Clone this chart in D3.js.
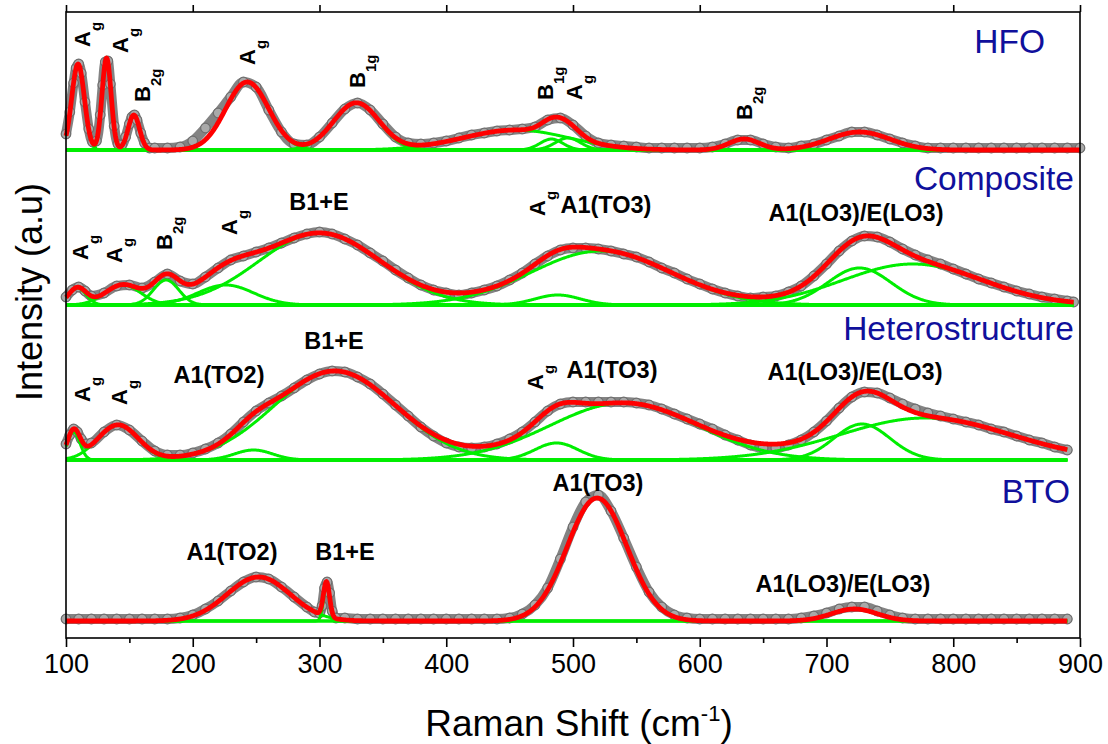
<!DOCTYPE html>
<html>
<head>
<meta charset="utf-8">
<script src="https://cdn.jsdelivr.net/npm/d3@7"></script>
<style>
  html, body { margin: 0; padding: 0; background: #fff; }
  svg { display: block; font-family: Arial, "Liberation Sans", sans-serif; }
</style>
</head>
<body>
<svg id="chart" width="1108" height="744"></svg>
<script>
// ---------------- data ----------------
const samples = ["HFO", "Composite", "Heterostructure", "BTO"];
// vertical stacking offset of each spectrum (a.u.)
const stackOffsets = [488, 333, 178, 17];

// measured spectra (Raman shift in cm-1, intensity in a.u. above the stack offset)
const hfoShift = [100,103,106,108,110,112,115,118,121,124,127,129,131,133,135,138,141,144,147,150,152,154,156,159,162,166,170,180,190,200,210,220,230,240,250,260,270,280,290,300,310,320,330,340,350,360,370,380,390,400,410,420,430,440,450,460,470,480,490,500,510,520,530,540,550,560,570,580,590,600,610,620,630,640,650,660,670,680,690,700,710,720,730,740,750,760,770,780,790,800,810,820,830,840,850,860,870,880,890,900];
const hfoIntensity = [16,38,67,82,86,77,48,21,8,9,35,65,88,89,66,24,6,5,13,26,33,35,30,17,7,2,2,2,3,9,22,37,53,68,63,40,18,6,5,13,27,41,47,40,26,13,7,6,7,9,12,15,17,19,20,21,23,30,32,25,14,7,5,4,3,2,2,2,2,2,3,6,10,10,6,3,2,4,6,10,14,18,18,15,11,7,4,2,2,2,2,2,2,2,2,2,2,2,2,2];

const compShift = [100,105,110,115,120,130,140,150,160,170,180,190,200,210,220,230,240,250,260,270,280,290,300,310,320,330,340,350,360,370,380,390,400,410,420,430,440,450,460,470,480,490,500,510,520,530,540,550,560,570,580,590,600,610,620,630,640,650,660,670,680,690,700,710,720,730,740,750,760,770,780,790,800,810,820,830,840,850,860,870,880,890,895];
const compIntensity = [8,15,18,14,9,12,19,20,17,23,31,24,21,28,37,45,49,53,57,62,67,71,73,71,66,60,52,44,35,27,20,15,12,10,12,15,19,25,32,41,49,55,57,57,56,54,51,48,43,37,32,26,21,16,12,9,7,8,9,13,19,29,41,54,64,69,68,63,56,50,45,41,36,31,26,22,18,14,11,8,6,4,3];

const hetShift = [100,103,106,109,112,116,120,130,140,150,160,170,180,190,200,210,220,230,240,250,260,270,280,290,300,310,320,330,340,350,360,370,380,390,400,410,420,430,440,450,460,470,480,490,500,510,520,530,540,550,560,570,580,590,600,610,620,630,640,650,660,670,680,690,700,710,720,730,740,750,760,770,780,790,800,810,820,830,840,850,860,870,880,890];
const hetIntensity = [16,25,31,28,21,16,17,28,35,30,19,9,5,5,7,11,17,26,38,49,57,64,72,80,86,89,88,83,76,66,55,44,33,24,17,13,12,13,16,21,28,38,49,56,58,58,58,58,58,57,55,51,46,41,36,31,25,20,15,12,12,15,20,28,39,52,63,68,67,62,56,51,47,44,41,38,35,31,28,24,20,17,13,10];

const btoShift = [100,110,120,130,140,150,160,170,180,190,200,210,220,230,240,250,260,270,280,290,296,300,302,304,306,308,310,313,320,330,340,350,360,370,380,390,400,410,420,430,440,450,460,470,480,490,500,510,520,530,540,550,560,570,580,590,600,610,620,630,640,650,660,670,680,690,700,710,720,730,740,750,760,770,780,790,800,810,820,830,840,850,860,870,880,890];
const btoIntensity = [2,2,2,2,2,2,2,2,2,3,6,12,20,30,39,44,42,34,24,14,9,8,15,33,39,28,10,3,3,2,2,2,2,2,2,2,2,2,2,2,2,3,7,16,33,62,94,119,126,110,83,54,29,14,6,3,2,2,2,2,2,2,2,2,3,5,8,12,14,14,10,6,3,2,2,2,2,2,2,2,2,2,2,2,2,2];

// fitted Gaussian components: [centre (cm-1), height (a.u.), sigma (cm-1)]
const hfoPeaks = [[109.5,86,5.0],[132,92,3.6],[153.5,35,4.5],[243,68,17],[329,47,18],[455,20,42],[483,11,9],[496,12,10],[635,11,12],[726,18,24]];
const compPeaks = [[109,17,7],[145,20,14],[179,25,10],[226,20,22],[300,72,48],[488,10,18],[522,54,55],[726,37,25],[768,41,55]];
const hetPeaks = [[106,28,5],[141,35,16],[248,10,15],[312,89,48],[487,17,17],[540,57,58],[728,36,22],[778,42,67]];
const btoPeaks = [[252,44,25],[305.5,35,2.4],[519,123,23.5],[722,12,18]];

// mode labels: [text, subscript, shift (cm-1), level (a.u.), rotated]
const hfoLabels = [["A","g",118.9,591,true],["A","g",148.9,585,true],["B","2g",166.3,536,true],["A","g",249.1,573,true],["B","1g",335.9,550,true],["B","1g",484.2,538,true],["A","g",507.1,538,true],["B","2g",641.2,518,true]];
const compLabels = [["A","g",117.4,378,true],["A","g",144.2,375,true],["B","2g",183.6,388,true],["A","g",234.9,403,true],["A","g",477.9,422,true],["B1+E","",299.6,428,false],["A1(TO3)","",526,425,false],["A1(LO3)/E(LO3)","",723.3,417,false]];
const hetLabels = [["A","g",118.9,236,true],["A","g",148.1,233,true],["A","g",476.3,248,true],["A1(TO2)","",220.7,255,false],["B1+E","",311.4,289,false],["A1(TO3)","",530.8,260,false],["A1(LO3)/E(LO3)","",722.5,258,false]];
const btoLabels = [["A1(TO2)","",231,78,false],["B1+E","",320.1,78,false],["A1(TO3)","",519.7,147,false],["A1(LO3)/E(LO3)","",713,46,false]];

const xTicks = [100,200,300,400,500,600,700,800,900];
const xMinorTicks = [150,250,350,450,550,650,750,850];

// ---------------- chart ----------------
const svg = d3.select("#chart");
const frame = { left: 66, right: 1080, top: 12, bottom: 638 };

const x = d3.scaleLinear().domain([100, 900]).range([frame.left, frame.right]);
const y = d3.scaleLinear().domain([0, 626]).range([frame.bottom, frame.top]);

const gauss = (s, p) => p[1] * Math.exp(-((s - p[0]) ** 2) / (2 * p[2] * p[2]));

const spectra = [
  { name: samples[0], shift: hfoShift, counts: hfoIntensity, peaks: hfoPeaks, labels: hfoLabels, offset: stackOffsets[0], nameX: 1045, nameY: 53 },
  { name: samples[1], shift: compShift, counts: compIntensity, peaks: compPeaks, labels: compLabels, offset: stackOffsets[1], nameX: 1074, nameY: 190 },
  { name: samples[2], shift: hetShift, counts: hetIntensity, peaks: hetPeaks, labels: hetLabels, offset: stackOffsets[2], nameX: 1074, nameY: 340 },
  { name: samples[3], shift: btoShift, counts: btoIntensity, peaks: btoPeaks, labels: btoLabels, offset: stackOffsets[3], nameX: 1070, nameY: 503 }
];

const plot = svg.append("g");

spectra.forEach(sp => {
  const g = plot.append("g").attr("class", "spectrum");
  const toXY = d3.line().x(d => x(d[0])).y(d => y(d[1] + sp.offset));

  // measured data: dense grey symbols
  const measured = sp.shift.map((s, i) => [s, sp.counts[i]]);
  g.append("path")
    .attr("d", toXY.curve(d3.curveMonotoneX)(measured))
    .attr("fill", "none")
    .attr("stroke", "#838383")
    .attr("stroke-width", 10)
    .attr("stroke-linejoin", "round")
    .attr("stroke-linecap", "round");
  g.append("g").selectAll("circle").data(measured).join("circle")
    .attr("cx", d => x(d[0]))
    .attr("cy", d => y(d[1] + sp.offset))
    .attr("r", 4.8)
    .attr("fill", "#a9a9a9")
    .attr("stroke", "#6e6e6e")
    .attr("stroke-width", 1.2);

  // fitted components and cumulative fit
  const s0 = sp.shift[0], s1 = sp.shift[sp.shift.length - 1];
  const grid = d3.range(s0, s1 + 0.001, 0.5);
  const lin = d3.line().x(d => x(d[0])).y(d => y(d[1] + sp.offset));

  sp.peaks.forEach(p => {
    g.append("path")
      .attr("d", lin(grid.map(s => [s, gauss(s, p)])))
      .attr("fill", "none")
      .attr("stroke", "#00ee00")
      .attr("stroke-width", 3);
  });

  g.append("path")
    .attr("d", lin(grid.map(s => [s, d3.sum(sp.peaks, p => gauss(s, p))])))
    .attr("fill", "none")
    .attr("stroke", "#ff0000")
    .attr("stroke-width", 4.8)
    .attr("stroke-linejoin", "round");

  // sample name
  svg.append("text")
    .attr("x", sp.nameX).attr("y", sp.nameY)
    .attr("text-anchor", "end")
    .attr("font-size", 33.5)
    .attr("fill", "#10109c")
    .text(sp.name);

  // mode labels
  sp.labels.forEach(([txt, sub, shift, level, rotated]) => {
    const px = x(shift), py = y(level);
    const t = svg.append("text")
      .attr("font-weight", "bold")
      .attr("fill", "#000");
    if (rotated) {
      t.attr("font-size", 22)
        .attr("transform", `translate(${px},${py}) rotate(-90)`).attr("text-anchor", "start");
    } else {
      t.attr("font-size", 23.5)
        .attr("x", px).attr("y", py).attr("text-anchor", "middle");
    }
    t.append("tspan").text(txt);
    if (sub) t.append("tspan").attr("font-size", 15).attr("dy", 11).text(sub);
  });
});

// frame
svg.append("rect")
  .attr("x", frame.left).attr("y", frame.top)
  .attr("width", frame.right - frame.left).attr("height", frame.bottom - frame.top)
  .attr("fill", "none").attr("stroke", "#000").attr("stroke-width", 1.6);

// x axis (bottom, labelled) with mirrored ticks on top
function styleAxis(sel) {
  sel.select(".domain").remove();
  sel.selectAll("line").attr("stroke", "#000").attr("stroke-width", 1.6);
}
const axisMajor = svg.append("g")
  .attr("transform", `translate(0,${frame.bottom})`)
  .call(d3.axisBottom(x).tickValues(xTicks).tickSize(9).tickPadding(7).tickFormat(d3.format("d")))
  .call(styleAxis);
axisMajor.selectAll("text").attr("font-size", 27).attr("fill", "#000").attr("font-family", "Arial, 'Liberation Sans', sans-serif");

svg.append("g")
  .attr("transform", `translate(0,${frame.bottom})`)
  .call(d3.axisBottom(x).tickValues(xMinorTicks).tickSize(5).tickFormat(""))
  .call(styleAxis);

svg.append("g")
  .attr("transform", `translate(0,${frame.top})`)
  .call(d3.axisTop(x).tickValues(xTicks).tickSize(7).tickFormat(""))
  .call(styleAxis);

// axis titles
const xt = svg.append("text")
  .attr("x", 579).attr("y", 736)
  .attr("text-anchor", "middle")
  .attr("font-size", 37)
  .attr("fill", "#000");
xt.append("tspan").text("Raman Shift (cm");
xt.append("tspan").attr("font-size", 22).attr("dy", -15).text("-1");
xt.append("tspan").attr("dy", 15).text(")");

svg.append("text")
  .attr("transform", "translate(42,292) rotate(-90)")
  .attr("text-anchor", "middle")
  .attr("font-size", 36)
  .attr("fill", "#000")
  .text("Intensity (a.u)");
</script>
</body>
</html>
